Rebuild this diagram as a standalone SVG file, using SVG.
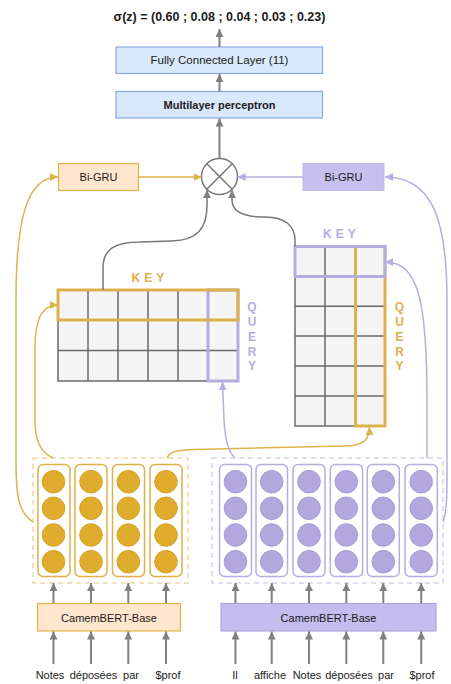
<svg xmlns="http://www.w3.org/2000/svg" width="451" height="684" viewBox="0 0 451 684">
<style>
text{font-family:"Liberation Sans",Arial,Helvetica,sans-serif;fill:#1a1a1a}
.t11{font-size:11px}
.c{text-anchor:middle}
.b{font-weight:bold}
.blue{fill:#dae8fc;stroke:#89a9dc;stroke-width:1.2}
.gl{fill:none;stroke:#808080;stroke-width:2}
.gc{fill:none;stroke:#777;stroke-width:1.5}
.ol{fill:none;stroke:#e0b24c;stroke-width:1.5}
.pl{fill:none;stroke:#b6ade2;stroke-width:1.5}
.cell{fill:#f5f5f5;stroke:#6a6a6a;stroke-width:1.5}
.gridl{fill:none;stroke:#6a6a6a;stroke-width:1.5}
.hio{fill:none;stroke:#deb04c;stroke-width:3}
.hip{fill:none;stroke:#b5ace0;stroke-width:3}
.ko{font-size:12px;font-weight:bold;fill:#deb04c;letter-spacing:4px}
.kp{font-size:12px;font-weight:bold;fill:#b5ace0;letter-spacing:4px}
.qo{font-size:12px;font-weight:bold;fill:#deb04c;text-anchor:middle}
.qp{font-size:12px;font-weight:bold;fill:#b5ace0;text-anchor:middle}
.colo{fill:#fff;stroke:#dfb04a;stroke-width:1.5}
.colp{fill:#fff;stroke:#b6ade2;stroke-width:1.5}
.dot-o{fill:#dfac2e;stroke:#d6a126;stroke-width:1}
.dot-p{fill:#b2a8dd;stroke:#a69bd6;stroke-width:1}
.dsho{fill:none;stroke:#f2d7a2;stroke-width:1.5;stroke-dasharray:5 4}
.dshp{fill:none;stroke:#d6d1f1;stroke-width:1.5;stroke-dasharray:5 4}
</style>
<defs>
<marker id="ag" markerWidth="8" markerHeight="8" refX="8" refY="4" orient="auto" markerUnits="userSpaceOnUse"><path d="M0,0 L8,4 L0,8 z" fill="#808080"/></marker>
<marker id="ao" markerWidth="8" markerHeight="8" refX="8" refY="4" orient="auto" markerUnits="userSpaceOnUse"><path d="M0,0 L8,4 L0,8 z" fill="#e0b24c"/></marker>
<marker id="ap" markerWidth="8" markerHeight="8" refX="8" refY="4" orient="auto" markerUnits="userSpaceOnUse"><path d="M0,0 L8,4 L0,8 z" fill="#b6ade2"/></marker>
</defs>

<g id="title">
<text x="219.5" y="21" class="c b" style="font-size:12.5px">σ(z) = (0.60 ; 0.08 ; 0.04 ; 0.03 ; 0.23)</text>
</g>

<g id="fc">
<rect x="116" y="47" width="206.5" height="26.5" class="blue"/>
<text x="219.5" y="64" class="c" style="font-size:11.5px">Fully Connected Layer (11)</text>
</g>
<g id="mlp">
<rect x="116" y="91.5" width="206.5" height="26.5" class="blue"/>
<text x="219.5" y="108.5" class="t11 c b">Multilayer perceptron</text>
</g>

<g id="combine">
<circle cx="219.5" cy="176.5" r="18" fill="#fff" stroke="#777" stroke-width="1.5"/>
<path d="M206.8,163.8 L232.2,189.2 M232.2,163.8 L206.8,189.2" stroke="#777" stroke-width="1.5"/>
</g>

<g id="bigru-left">
<rect x="58.5" y="163.5" width="80" height="27" fill="#ffe6cc" stroke="#e0b24c" stroke-width="1.2"/>
<text x="98.5" y="181" class="t11 c">Bi-GRU</text>
</g>
<g id="bigru-right">
<rect x="303" y="163.5" width="81" height="27" fill="#c7bfee" stroke="#c2b9ec" stroke-width="1"/>
<text x="343.5" y="181" class="t11 c">Bi-GRU</text>
</g>

<g id="grid-left">
<rect x="58" y="290" width="180" height="91" class="cell"/>
<path d="M88,290V381M118,290V381M148,290V381M178,290V381M208,290V381M58,320.3H238M58,350.6H238" class="gridl"/>
<rect x="208" y="290" width="30" height="91" class="hip"/>
<rect x="58" y="290" width="180" height="30" class="hio"/>
<text x="131.5" y="282" class="ko">KEY</text>
<text x="252" y="311" class="qp">Q</text>
<text x="252" y="326" class="qp">U</text>
<text x="252" y="341" class="qp">E</text>
<text x="252" y="356" class="qp">R</text>
<text x="252" y="370" class="qp">Y</text>
</g>

<g id="grid-right">
<rect x="295" y="246.5" width="90" height="179.5" class="cell"/>
<path d="M325,246.5V426M355,246.5V426M295,276.5H385M295,306.3H385M295,336H385M295,366H385M295,396H385" class="gridl"/>
<rect x="355.5" y="246.5" width="29.5" height="179.5" class="hio"/>
<rect x="295" y="246.5" width="90" height="30" class="hip"/>
<text x="323" y="238" class="kp">KEY</text>
<text x="399.5" y="311" class="qo">Q</text>
<text x="399.5" y="326" class="qo">U</text>
<text x="399.5" y="341" class="qo">E</text>
<text x="399.5" y="356" class="qo">R</text>
<text x="399.5" y="370" class="qo">Y</text>
</g>

<g id="emb-left">
<rect x="33" y="458" width="155" height="125" class="dsho"/>
<rect x="38" y="464.5" width="32" height="112" rx="5" class="colo"/>
<rect x="75" y="464.5" width="32" height="112" rx="5" class="colo"/>
<rect x="112.5" y="464.5" width="32" height="112" rx="5" class="colo"/>
<rect x="150" y="464.5" width="32" height="112" rx="5" class="colo"/>
<g class="dot-o">
<circle cx="53.5" cy="481.7" r="11.3"/><circle cx="53.5" cy="508.3" r="11.3"/><circle cx="53.5" cy="535" r="11.3"/><circle cx="53.5" cy="561.7" r="11.3"/>
<circle cx="91" cy="481.7" r="11.3"/><circle cx="91" cy="508.3" r="11.3"/><circle cx="91" cy="535" r="11.3"/><circle cx="91" cy="561.7" r="11.3"/>
<circle cx="128.3" cy="481.7" r="11.3"/><circle cx="128.3" cy="508.3" r="11.3"/><circle cx="128.3" cy="535" r="11.3"/><circle cx="128.3" cy="561.7" r="11.3"/>
<circle cx="166" cy="481.7" r="11.3"/><circle cx="166" cy="508.3" r="11.3"/><circle cx="166" cy="535" r="11.3"/><circle cx="166" cy="561.7" r="11.3"/>
</g>
</g>

<g id="emb-right">
<rect x="212" y="458" width="231" height="125" class="dshp"/>
<rect x="219.5" y="464.5" width="32" height="112" rx="5" class="colp"/>
<rect x="256" y="464.5" width="31.5" height="112" rx="5" class="colp"/>
<rect x="293" y="464.5" width="32" height="112" rx="5" class="colp"/>
<rect x="330.3" y="464.5" width="32.3" height="112" rx="5" class="colp"/>
<rect x="367.3" y="464.5" width="32" height="112" rx="5" class="colp"/>
<rect x="405" y="464.5" width="32.3" height="112" rx="5" class="colp"/>
<g class="dot-p">
<circle cx="235.5" cy="481.7" r="11.3"/><circle cx="235.5" cy="508.3" r="11.3"/><circle cx="235.5" cy="535" r="11.3"/><circle cx="235.5" cy="561.7" r="11.3"/>
<circle cx="271.7" cy="481.7" r="11.3"/><circle cx="271.7" cy="508.3" r="11.3"/><circle cx="271.7" cy="535" r="11.3"/><circle cx="271.7" cy="561.7" r="11.3"/>
<circle cx="309" cy="481.7" r="11.3"/><circle cx="309" cy="508.3" r="11.3"/><circle cx="309" cy="535" r="11.3"/><circle cx="309" cy="561.7" r="11.3"/>
<circle cx="346.3" cy="481.7" r="11.3"/><circle cx="346.3" cy="508.3" r="11.3"/><circle cx="346.3" cy="535" r="11.3"/><circle cx="346.3" cy="561.7" r="11.3"/>
<circle cx="383.3" cy="481.7" r="11.3"/><circle cx="383.3" cy="508.3" r="11.3"/><circle cx="383.3" cy="535" r="11.3"/><circle cx="383.3" cy="561.7" r="11.3"/>
<circle cx="421.2" cy="481.7" r="11.3"/><circle cx="421.2" cy="508.3" r="11.3"/><circle cx="421.2" cy="535" r="11.3"/><circle cx="421.2" cy="561.7" r="11.3"/>
</g>
</g>

<g id="bert-left">
<rect x="37.5" y="603.5" width="143" height="27.5" fill="#ffe6cc" stroke="#e0b24c" stroke-width="1.2"/>
<text x="109" y="621.5" class="t11 c">CamemBERT-Base</text>
</g>
<g id="bert-right">
<rect x="221" y="603.5" width="215" height="27.5" fill="#c5bdef" stroke="#aea4e0" stroke-width="1.2"/>
<text x="328.5" y="621.5" class="t11 c">CamemBERT-Base</text>
</g>

<g id="tokens" class="t11">
<text x="50" y="679" class="c">Notes</text>
<text x="93.5" y="679" class="c">déposées</text>
<text x="131" y="679" class="c">par</text>
<text x="168" y="679" class="c">$prof</text>
<text x="235" y="679" class="c">Il</text>
<text x="270" y="679" class="c">affiche</text>
<text x="307" y="679" class="c">Notes</text>
<text x="349" y="679" class="c">déposées</text>
<text x="386" y="679" class="c">par</text>
<text x="422" y="679" class="c">$prof</text>
</g>

<g id="connectors">
<path d="M219.5,47 L219.5,29" class="gl" marker-end="url(#ag)"/>
<path d="M219.5,91.5 L219.5,74" class="gl" marker-end="url(#ag)"/>
<path d="M219.5,158.5 L219.5,118.5" class="gl" marker-end="url(#ag)"/>
<path d="M103,290 L103,268 C103,249 115,242 140,242 L172,241 C198,240 207,228 207,205 L207,190" class="gc" marker-end="url(#ag)"/>
<path d="M295,246.5 L295,240 C295,226 285,217 265,217 C245,217 232,212 232,200 L232,190" class="gc" marker-end="url(#ag)"/>

<path d="M138.5,177 L201.5,177" class="ol" marker-end="url(#ao)"/>
<path d="M33,522 C18,512 16,495 16,460 L16,300 C16,215 28,177 58,177" class="ol" marker-end="url(#ao)"/>
<path d="M53,458 C40,452 35,440 35,420 L35,350 C35,318 42,305 58,305" class="ol" marker-end="url(#ao)"/>
<path d="M167,458 C170,451 178,450 195,449.5 L345,446 C362,445.5 369.5,441 369.5,427" class="ol" marker-end="url(#ao)"/>

<path d="M303,177 L237.5,177" class="pl" marker-end="url(#ap)"/>
<path d="M443,522 C447,512 447,495 447,465 L447,300 C447,215 430,177 385,177" class="pl" marker-end="url(#ap)"/>
<path d="M427,458 L427,400 C427,300 418,262 385,262" class="pl" marker-end="url(#ap)"/>
<path d="M235,458 C228,452 225,440 224,420 L222.5,382" class="pl" marker-end="url(#ap)"/>

<g class="gl">
<path d="M53.5,603 V583" marker-end="url(#ag)"/>
<path d="M91,603 V583" marker-end="url(#ag)"/>
<path d="M128.3,603 V583" marker-end="url(#ag)"/>
<path d="M166,603 V583" marker-end="url(#ag)"/>
<path d="M235.5,603 V583" marker-end="url(#ag)"/>
<path d="M271.7,603 V583" marker-end="url(#ag)"/>
<path d="M309,603 V583" marker-end="url(#ag)"/>
<path d="M346.3,603 V583" marker-end="url(#ag)"/>
<path d="M383.3,603 V583" marker-end="url(#ag)"/>
<path d="M421.2,603 V583" marker-end="url(#ag)"/>
<path d="M53.5,664 V631.5" marker-end="url(#ag)"/>
<path d="M91,664 V631.5" marker-end="url(#ag)"/>
<path d="M128.3,664 V631.5" marker-end="url(#ag)"/>
<path d="M166,664 V631.5" marker-end="url(#ag)"/>
<path d="M235.5,664 V631.5" marker-end="url(#ag)"/>
<path d="M271.7,664 V631.5" marker-end="url(#ag)"/>
<path d="M309,664 V631.5" marker-end="url(#ag)"/>
<path d="M346.3,664 V631.5" marker-end="url(#ag)"/>
<path d="M383.3,664 V631.5" marker-end="url(#ag)"/>
<path d="M421.2,664 V631.5" marker-end="url(#ag)"/>
</g>
</g>
</svg>
